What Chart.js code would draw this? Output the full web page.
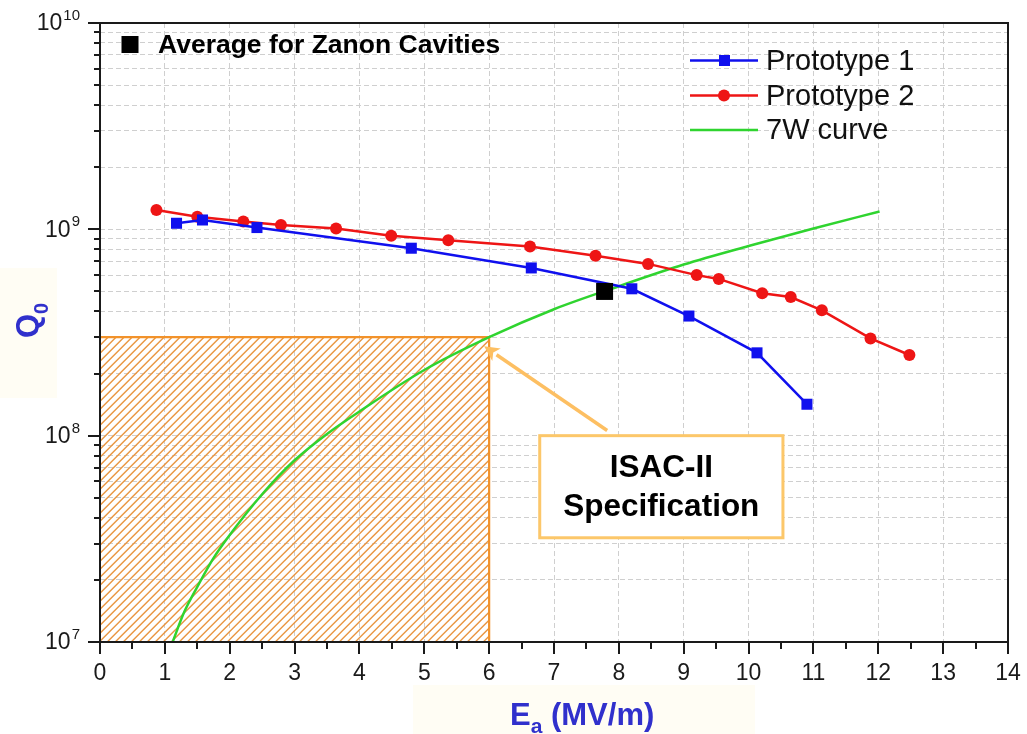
<!DOCTYPE html>
<html>
<head>
<meta charset="utf-8">
<script src="https://cdn.jsdelivr.net/npm/chart.js@4.4.1/dist/chart.umd.min.js"></script>
<style>
html,body{margin:0;padding:0;background:#fff;}
#wrap{width:1027px;height:734px;position:relative;}
</style>
</head>
<body>
<div id="wrap"><canvas id="c" width="1027" height="734"></canvas></div>
<script>
// ---- data ----
const p1E = [1.18, 1.58, 2.42, 4.80, 6.65, 8.20, 9.08, 10.13, 10.90];
const p1Q = [1.07e9, 1.11e9, 1.02e9, 8.1e8, 6.5e8, 5.15e8, 3.8e8, 2.52e8, 1.42e8];

const p2E = [0.87, 1.50, 2.21, 2.79, 3.64, 4.49, 5.37, 6.63, 7.64, 8.45, 9.20, 9.54, 10.21, 10.65, 11.13, 11.88, 12.48];
const p2Q = [1.24e9, 1.15e9, 1.09e9, 1.05e9, 1.01e9, 9.3e8, 8.85e8, 8.25e8, 7.45e8, 6.8e8, 6.0e8, 5.75e8, 4.9e8, 4.7e8, 4.05e8, 2.96e8, 2.46e8];

const w7E = [1.12, 1.3, 1.5, 1.75, 2.0, 2.5, 3.0, 3.5, 4.0, 5.0, 6.0, 7.0, 8.0, 9.0, 10.0, 11.0, 12.02];
const w7Q = [1.0e7, 1.4e7, 1.85e7, 2.55e7, 3.3e7, 5.2e7, 7.6e7, 1.02e8, 1.31e8, 2.08e8, 3.0e8, 4.1e8, 5.3e8, 6.75e8, 8.3e8, 1.01e9, 1.22e9];

const avgE = [7.78];
const avgQ = [5.0e8];

const specE = 6;      // ISAC-II specification gradient
const specQ = 3.0e8;  // ISAC-II specification Q0

const xTickLabels = ['0','1','2','3','4','5','6','7','8','9','10','11','12','13','14'];
const yTickExponents = [7, 8, 9, 10];

const seriesNames = ['Prototype 1', 'Prototype 2', '7W curve'];
const avgLabel = 'Average for Zanon Cavities';
const specLines = ['ISAC-II', 'Specification'];

// ---- styles ----
const FONT = '"Liberation Sans", Arial, Helvetica, sans-serif';
const BLUE = '#1010ee';
const RED = '#ee1515';
const GREEN = '#2fd42f';
const TITLE = '#3030cc';

function pts(xs, ys) { return xs.map((x, i) => ({x: x, y: ys[i]})); }

const overlay = {
  id: 'overlay',
  beforeDraw(chart) {
    const ctx = chart.ctx;
    ctx.save();
    ctx.fillStyle = '#fffdf4';
    ctx.fillRect(0, 268, 57, 130);
    ctx.fillRect(413, 685, 342, 49);
    ctx.restore();
  },
  beforeDatasetsDraw(chart) {
    const ctx = chart.ctx, xs = chart.scales.x, ys = chart.scales.y;
    const x0 = xs.getPixelForValue(xs.min), x1 = xs.getPixelForValue(specE);
    const yb = ys.getPixelForValue(ys.min), yt = ys.getPixelForValue(specQ);
    ctx.save();
    ctx.beginPath();
    ctx.rect(x0, yt, x1 - x0, yb - yt);
    ctx.clip();
    ctx.strokeStyle = '#e9953f';
    ctx.lineWidth = 1.4;
    const h = yb - yt;
    for (let s = x0 - h; s < x1 + 10; s += 8) {
      ctx.beginPath();
      ctx.moveTo(s, yb);
      ctx.lineTo(s + h, yt);
      ctx.stroke();
    }
    ctx.restore();
    ctx.save();
    ctx.strokeStyle = '#f2922a';
    ctx.lineWidth = 2.2;
    ctx.beginPath();
    ctx.moveTo(x0, yt);
    ctx.lineTo(x1, yt);
    ctx.lineTo(x1, yb);
    ctx.stroke();
    ctx.restore();
  },
  afterDraw(chart) {
    const ctx = chart.ctx, xs = chart.scales.x, ys = chart.scales.y, a = chart.chartArea;
    ctx.save();
    // frame
    ctx.strokeStyle = '#1a1a1a';
    ctx.lineWidth = 2;
    ctx.strokeRect(a.left, a.top, a.right - a.left, a.bottom - a.top);
    // x tick marks
    ctx.lineWidth = 2;
    for (let v = xs.min; v <= xs.max + 1e-9; v += 0.5) {
      const px = Math.round(xs.getPixelForValue(v));
      const len = (Math.abs(v - Math.round(v)) < 1e-9) ? 12 : 7;
      ctx.beginPath();
      ctx.moveTo(px, a.bottom);
      ctx.lineTo(px, a.bottom + len);
      ctx.stroke();
    }
    // y tick marks
    ys.ticks.forEach(t => {
      const py = Math.round(ys.getPixelForValue(t.value));
      const m = Math.log10(t.value);
      const major = Math.abs(m - Math.round(m)) < 1e-9;
      ctx.beginPath();
      ctx.moveTo(a.left, py);
      ctx.lineTo(a.left - (major ? 12 : 6), py);
      ctx.stroke();
    });
    // y labels with superscripts
    ctx.fillStyle = '#1a1a1a';
    ctx.textBaseline = 'middle';
    yTickExponents.forEach(e => {
      const py = ys.getPixelForValue(Math.pow(10, e));
      ctx.font = '23px ' + FONT;
      const wb = ctx.measureText('10').width;
      ctx.font = '15px ' + FONT;
      const we = ctx.measureText(String(e)).width;
      const right = 80;
      const left = right - we - 1 - wb;
      ctx.font = '23px ' + FONT;
      ctx.textAlign = 'left';
      ctx.fillText('10', left, py + 1);
      ctx.font = '15px ' + FONT;
      ctx.fillText(String(e), left + wb + 1, py - 7);
    });
    // average marker label
    ctx.fillStyle = '#000';
    ctx.fillRect(121.5, 36, 17, 17);
    ctx.font = 'bold 26.5px ' + FONT;
    ctx.textAlign = 'left';
    ctx.fillText(avgLabel, 158, 46);
    // legend
    const rows = [60.5, 95.5, 130];
    const cols = [BLUE, RED, GREEN];
    rows.forEach((ry, i) => {
      ctx.strokeStyle = cols[i];
      ctx.lineWidth = 2.5;
      ctx.beginPath();
      ctx.moveTo(690, ry);
      ctx.lineTo(758, ry);
      ctx.stroke();
      ctx.fillStyle = cols[i];
      if (i === 0) ctx.fillRect(719, ry - 5.5, 11, 11);
      if (i === 1) { ctx.beginPath(); ctx.arc(724, ry, 6, 0, Math.PI * 2); ctx.fill(); }
      ctx.fillStyle = '#111';
      ctx.font = '29px ' + FONT;
      ctx.textBaseline = 'middle';
      ctx.fillText(seriesNames[i], 766, ry + 1);
    });
    // annotation arrow (filled head)
    const tx = xs.getPixelForValue(specE) - 5, ty = ys.getPixelForValue(specQ) + 9;
    const sx = xs.getPixelForValue(7.82), sy = ys.getPixelForValue(1.06e8);
    const ang = Math.atan2(ty - sy, tx - sx);
    const hl = 15, hw = 7.5;
    const bxh = tx - hl * Math.cos(ang), byh = ty - hl * Math.sin(ang);
    ctx.strokeStyle = '#fdbf62';
    ctx.fillStyle = '#fdbf62';
    ctx.lineWidth = 3.5;
    ctx.beginPath();
    ctx.moveTo(sx, sy);
    ctx.lineTo(bxh, byh);
    ctx.stroke();
    ctx.beginPath();
    ctx.moveTo(tx, ty);
    ctx.lineTo(bxh + hw * Math.sin(ang), byh - hw * Math.cos(ang));
    ctx.lineTo(bxh + 4 * Math.cos(ang), byh + 4 * Math.sin(ang));
    ctx.lineTo(bxh - hw * Math.sin(ang), byh + hw * Math.cos(ang));
    ctx.closePath();
    ctx.fill();
    // annotation box
    const bx0 = xs.getPixelForValue(6.78), bx1 = xs.getPixelForValue(10.53);
    const by0 = ys.getPixelForValue(1.0e8), by1 = ys.getPixelForValue(3.2e7);
    ctx.fillStyle = '#ffffff';
    ctx.fillRect(bx0, by0, bx1 - bx0, by1 - by0);
    ctx.strokeStyle = '#fcc76a';
    ctx.lineWidth = 3;
    ctx.strokeRect(bx0, by0, bx1 - bx0, by1 - by0);
    ctx.fillStyle = '#000';
    ctx.font = 'bold 31.5px ' + FONT;
    ctx.textAlign = 'center';
    ctx.textBaseline = 'middle';
    const cx = (bx0 + bx1) / 2;
    ctx.fillText(specLines[0], cx, by0 + 33);
    ctx.fillText(specLines[1], cx, by0 + 72);
    // axis titles
    ctx.fillStyle = TITLE;
    ctx.textAlign = 'left';
    ctx.textBaseline = 'alphabetic';
    ctx.font = 'bold 31px ' + FONT;
    ctx.fillText('E', 510, 725);
    const wE = ctx.measureText('E').width;
    ctx.font = 'bold 21px ' + FONT;
    ctx.fillText('a', 510 + wE, 733);
    const wa = ctx.measureText('a').width;
    ctx.font = 'bold 31px ' + FONT;
    ctx.fillText(' (MV/m)', 510 + wE + wa, 725);
    ctx.save();
    ctx.translate(38, 338);
    ctx.rotate(-Math.PI / 2);
    ctx.font = 'bold 31px ' + FONT;
    ctx.fillText('Q', 0, 0);
    const wQ = ctx.measureText('Q').width;
    ctx.font = 'bold 20px ' + FONT;
    ctx.fillText('0', wQ, 10);
    ctx.restore();
    ctx.restore();
  }
};

new Chart(document.getElementById('c'), {
  type: 'scatter',
  data: {
    datasets: [
      {
        label: seriesNames[2], data: pts(w7E, w7Q), showLine: true,
        borderColor: GREEN, borderWidth: 2.5, pointRadius: 0, tension: 0.3,
        cubicInterpolationMode: 'monotone', order: 3
      },
      {
        label: seriesNames[1], data: pts(p2E, p2Q), showLine: true,
        borderColor: RED, backgroundColor: RED, borderWidth: 2.5,
        pointStyle: 'circle', pointRadius: 6, pointBorderWidth: 0, order: 2
      },
      {
        label: seriesNames[0], data: pts(p1E, p1Q), showLine: true,
        borderColor: BLUE, backgroundColor: BLUE, borderWidth: 2.5,
        pointStyle: 'rect', pointRadius: 7.8, pointBorderWidth: 0, order: 1
      },
      {
        label: avgLabel, data: pts(avgE, avgQ), showLine: false,
        backgroundColor: '#000', borderColor: '#000',
        pointStyle: 'rect', pointRadius: 12, pointBorderWidth: 0, order: 0
      }
    ]
  },
  options: {
    responsive: false,
    devicePixelRatio: 1,
    animation: false,
    layout: { padding: { top: 23, right: 19, left: 0, bottom: 0 } },
    plugins: { legend: { display: false }, tooltip: { enabled: false } },
    scales: {
      x: {
        type: 'linear', min: 0, max: 14,
        afterFit(s) { s.height = 92; s.paddingLeft = 0; s.paddingRight = 0; },
        ticks: {
          stepSize: 1, padding: 18, color: '#1a1a1a',
          font: { family: FONT, size: 23 },
          callback: (v) => xTickLabels[Math.round(v)] ?? ''
        },
        grid: { color: '#cfcfcf', lineWidth: 1, drawTicks: false },
        border: { display: false, dash: [5, 3] }
      },
      y: {
        type: 'logarithmic', min: 1e7, max: 1e10,
        afterFit(s) { s.width = 100; s.paddingTop = 0; s.paddingBottom = 0; },
        afterBuildTicks(s) {
          const t = [];
          for (let e = 7; e < 10; e++) for (let m = 1; m < 10; m++) t.push({ value: m * Math.pow(10, e) });
          t.push({ value: 1e10 });
          s.ticks = t;
        },
        ticks: { display: false },
        grid: { color: '#cfcfcf', lineWidth: 1, drawTicks: false },
        border: { display: false, dash: [5, 3] }
      }
    }
  },
  plugins: [overlay]
});
</script>
</body>
</html>
